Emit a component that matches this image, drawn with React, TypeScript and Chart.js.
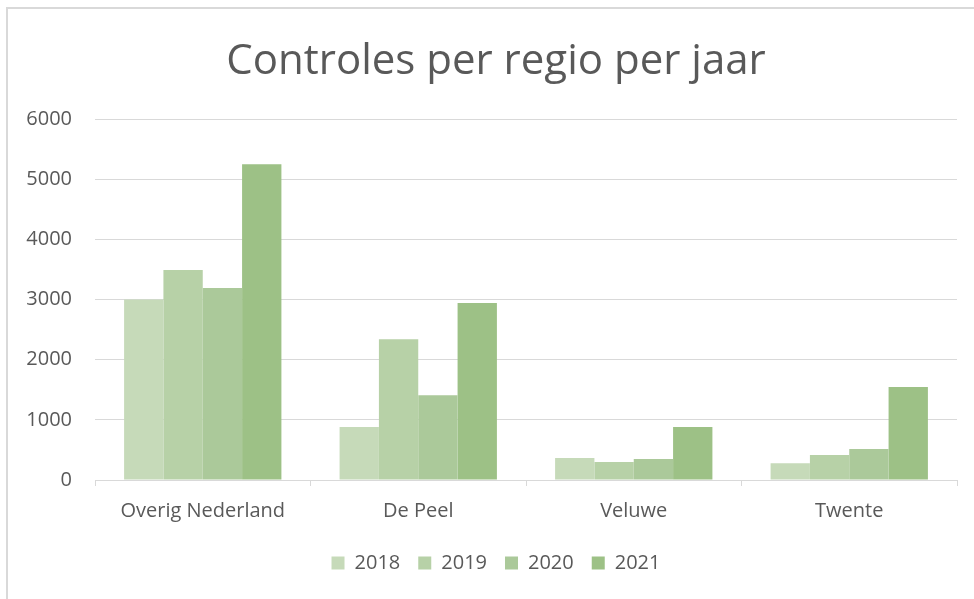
import React, { useEffect, useRef } from "react";
import { Chart, registerables } from "chart.js";

Chart.register(...registerables);

const categories = ["Overig Nederland", "De Peel", "Veluwe", "Twente"];
const seriesLabels = ["2018", "2019", "2020", "2021"];
const values2018 = [3000, 880, 365, 280];
const values2019 = [3490, 2340, 300, 415];
const values2020 = [3190, 1410, 350, 515];
const values2021 = [5250, 2940, 880, 1545];
const seriesColors = ["#c6dab9", "#b7d1a7", "#abc99a", "#9dc186"];
const yMin = 0;
const yMax = 6000;
const yStep = 1000;
const titleText = "Controles per regio per jaar";

const FONT = "'Open Sans', 'DejaVu Sans', sans-serif";
const TEXT = "#595959";
const GRID = "#d9d9d9";

export default function App() {
  const ref = useRef<HTMLCanvasElement | null>(null);

  useEffect(() => {
    if (!ref.current) return;
    const allValues = [values2018, values2019, values2020, values2021];
    const chart = new Chart(ref.current, {
      type: "bar",
      data: {
        labels: categories,
        datasets: seriesLabels.map((label, i) => ({
          label,
          data: allValues[i],
          backgroundColor: seriesColors[i],
          borderWidth: 0,
          barPercentage: 1.0,
          categoryPercentage: 0.73,
          yAxisID: "y",
        })),
      },
      options: {
        animation: false,
        responsive: false,
        maintainAspectRatio: false,
        layout: { padding: { left: 22, right: 4, top: 0, bottom: 16 } },
        plugins: {
          title: {
            display: true,
            text: titleText,
            color: TEXT,
            font: { family: FONT, size: 42, weight: "normal" as any, lineHeight: 1.2 },
            padding: { top: 36.4, bottom: 32.2 },
          },
          legend: {
            display: true,
            position: "bottom",
            labels: {
              color: TEXT,
              font: { family: FONT, size: 20 },
              boxWidth: 13,
              boxHeight: 13,
              padding: 18,
            },
          },
          tooltip: { enabled: false },
        },
        scales: {
          x: {
            grid: {
              offset: true,
              drawOnChartArea: false,
              drawTicks: true,
              tickLength: 6,
              color: GRID,
            },
            border: { display: true, color: GRID, width: 1 },
            ticks: {
              color: TEXT,
              font: { family: FONT, size: 20 },
              padding: 13,
              maxRotation: 0,
            },
            afterFit: (scale: any) => {
              scale.height = 55;
            },
          },
          y: {
            position: "left",
            min: yMin,
            max: yMax,
            grid: { color: GRID, drawTicks: false, lineWidth: 1 },
            border: { display: false },
            ticks: {
              stepSize: yStep,
              color: TEXT,
              font: { family: FONT, size: 20 },
              padding: 23,
              callback: (value: any) => String(value),
            },
            afterFit: (scale: any) => {
              scale.width = 73;
            },
          },
          yRight: {
            type: "linear",
            position: "right",
            display: true,
            grid: { display: false, drawTicks: false },
            border: { display: false },
            ticks: { display: false },
            afterFit: (scale: any) => {
              scale.width = 13;
            },
          },
        },
      },
    });
    return () => chart.destroy();
  }, []);

  return (
    <div style={{ position: "absolute", left: 0, top: 0, width: 974, height: 599, background: "#fff" }}>
      <div
        style={{
          position: "absolute",
          left: 6,
          top: 7,
          right: 0,
          bottom: 0,
          borderLeft: `2px solid ${GRID}`,
          borderTop: `2px solid ${GRID}`,
          pointerEvents: "none",
        }}
      />
      <canvas ref={ref} width={974} height={599} style={{ position: "absolute", left: 0, top: 0 }} />
    </div>
  );
}
